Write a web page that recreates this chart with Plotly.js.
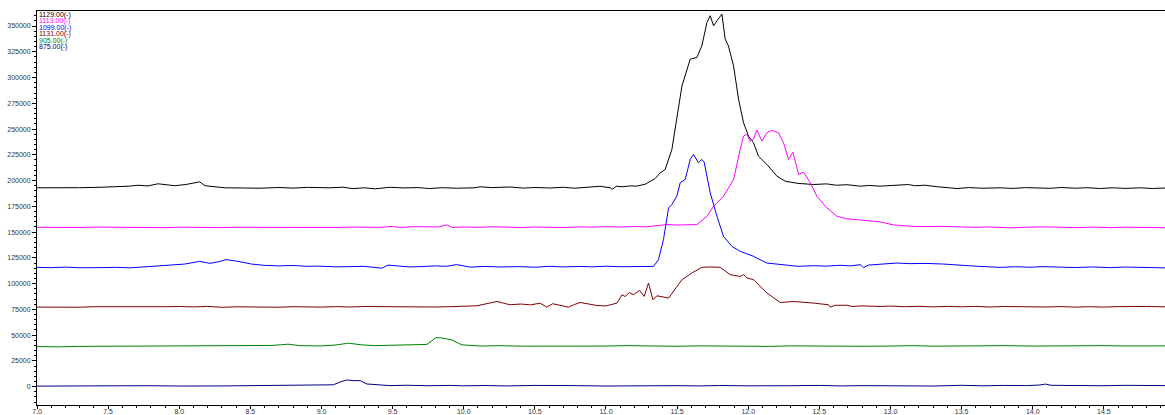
<!DOCTYPE html>
<html>
<head>
<meta charset="utf-8">
<script src="https://cdn.plot.ly/plotly-3.0.1.min.js"></script>
<style>html,body{margin:0;padding:0;background:#fff;}#chart{width:1165px;height:415px;}</style>
</head>
<body>
<div id="chart"></div>
<script>
// Legend labels (drawn as coloured text, top-left)
const seriesNames = ['1129.00(-)', '1113.00(-)', '1099.00(-)', '1131.00(-)', '905.00(-)', '875.00(-)'];
const seriesColors = ['#000000', '#ff00ff', '#0000ff', '#800000', '#008000', '#000080'];

// 1129.00 (black)
const x1129 = [7.0, 7.1, 7.2, 7.3, 7.443, 7.55, 7.65, 7.71, 7.78, 7.851, 7.91, 7.97, 8.05, 8.144, 8.181, 8.25, 8.32, 8.45, 8.568, 8.7, 8.8, 8.9, 8.976, 9.06, 9.15, 9.22, 9.3, 9.377, 9.48, 9.58, 9.68, 9.76, 9.85, 9.95, 10.08, 10.115, 10.2, 10.326, 10.42, 10.5, 10.608, 10.7, 10.78, 10.854, 10.959, 11.03, 11.044, 11.072, 11.12, 11.17, 11.217, 11.276, 11.346, 11.381, 11.416, 11.463, 11.498, 11.534, 11.592, 11.639, 11.674, 11.71, 11.733, 11.756, 11.78, 11.815, 11.838, 11.861, 11.897, 11.932, 11.967, 12.002, 12.037, 12.072, 12.131, 12.202, 12.26, 12.35, 12.459, 12.55, 12.62, 12.694, 12.788, 12.85, 12.928, 13.0, 13.06, 13.127, 13.17, 13.245, 13.33, 13.4, 13.468, 13.55, 13.65, 13.772, 13.86, 13.95, 14.04, 14.124, 14.2, 14.3, 14.38, 14.475, 14.56, 14.65, 14.757, 14.84, 14.93];
const y1129 = [193000, 192800, 193300, 193100, 193500, 193900, 194600, 195500, 194800, 196900, 195600, 195000, 196300, 198800, 195000, 194000, 193000, 192800, 192600, 193300, 192700, 193400, 193200, 193000, 193600, 192200, 193000, 192000, 193500, 192900, 193200, 192300, 193100, 192600, 193000, 194000, 193200, 193800, 192700, 193300, 192800, 193500, 192600, 193200, 194500, 193000, 191500, 194500, 194000, 194900, 194600, 196500, 202000, 207500, 210800, 230000, 262700, 291800, 317800, 319500, 330800, 353500, 360000, 350200, 355100, 361600, 337300, 330700, 311300, 279000, 256200, 243200, 236800, 223700, 215700, 204300, 199400, 197300, 196200, 196800, 195500, 196000, 194600, 195300, 194600, 195200, 195600, 196200, 195000, 195500, 194000, 193300, 192300, 193200, 192600, 193000, 192400, 193200, 192700, 192500, 193300, 192600, 193100, 192300, 193000, 192400, 193000, 192300, 192800];

// 1113.00 (magenta)
const x1113 = [7.0, 7.1, 7.2, 7.3, 7.4, 7.5, 7.6, 7.7, 7.8, 7.9, 8.0, 8.1, 8.2, 8.3, 8.4, 8.5, 8.6, 8.7, 8.8, 8.9, 9.0, 9.1, 9.2, 9.3, 9.4, 9.5, 9.55, 9.65, 9.75, 9.82, 9.881, 9.92, 10.0, 10.1, 10.2, 10.3, 10.4, 10.5, 10.6, 10.7, 10.818, 10.9, 11.0, 11.1, 11.2, 11.288, 11.35, 11.428, 11.5, 11.58, 11.639, 11.71, 11.756, 11.826, 11.897, 11.944, 11.967, 11.991, 12.014, 12.037, 12.061, 12.096, 12.131, 12.167, 12.213, 12.248, 12.283, 12.314, 12.354, 12.389, 12.436, 12.483, 12.553, 12.624, 12.694, 12.764, 12.858, 12.928, 13.02, 13.139, 13.25, 13.35, 13.491, 13.6, 13.7, 13.842, 13.95, 14.05, 14.194, 14.3, 14.42, 14.546, 14.65, 14.75, 14.85, 14.93];
const y1113 = [154700, 154400, 154800, 154500, 154900, 154800, 154400, 154700, 154300, 154300, 154800, 154500, 154900, 154400, 154700, 154600, 154500, 154900, 154400, 154800, 154700, 154500, 154900, 154400, 154600, 155500, 154500, 155300, 155200, 155000, 157000, 154500, 155000, 154600, 155200, 154800, 154500, 154900, 154600, 154500, 155100, 154800, 155300, 154900, 155400, 155100, 156200, 157300, 156900, 157400, 157300, 165400, 175100, 184800, 201100, 230300, 243200, 244900, 238300, 240300, 249000, 238300, 246500, 248700, 246500, 236800, 220500, 227600, 206000, 208200, 197900, 184800, 173500, 165400, 162800, 162100, 160500, 159900, 157000, 155700, 155300, 155600, 155000, 154600, 155000, 154100, 154700, 155100, 154800, 154300, 154900, 154300, 154800, 154500, 154100, 154200];

// 1099.00 (blue)
const x1099 = [7.0, 7.1, 7.2, 7.3, 7.443, 7.55, 7.654, 7.75, 7.82, 7.898, 7.97, 8.039, 8.144, 8.215, 8.27, 8.331, 8.414, 8.507, 8.601, 8.7, 8.8, 8.9, 8.976, 9.1, 9.201, 9.3, 9.424, 9.468, 9.55, 9.62, 9.693, 9.8, 9.88, 9.951, 10.045, 10.15, 10.25, 10.397, 10.5, 10.6, 10.7, 10.818, 10.9, 11.0, 11.1, 11.2, 11.334, 11.369, 11.404, 11.44, 11.463, 11.498, 11.522, 11.557, 11.592, 11.615, 11.65, 11.674, 11.69, 11.733, 11.78, 11.826, 11.885, 11.944, 12.037, 12.131, 12.272, 12.35, 12.459, 12.55, 12.65, 12.72, 12.788, 12.811, 12.844, 12.93, 13.046, 13.13, 13.25, 13.373, 13.49, 13.6, 13.772, 13.88, 13.98, 14.08, 14.194, 14.3, 14.42, 14.546, 14.65, 14.75, 14.85, 14.93];
const y1099 = [115800, 115500, 116000, 115400, 115500, 115800, 115300, 116200, 116800, 117400, 118000, 119000, 121600, 119700, 121000, 123300, 121600, 119000, 117700, 117200, 117600, 116800, 117000, 116300, 116500, 116800, 115000, 118000, 117000, 116200, 116500, 117200, 116800, 118500, 116000, 116700, 116200, 116500, 115900, 116800, 116200, 116700, 116300, 116900, 116400, 116800, 116700, 123200, 142700, 173500, 176800, 184800, 197900, 201100, 220500, 225400, 217300, 220500, 218000, 188100, 165400, 145900, 136200, 131300, 126500, 120000, 117700, 116800, 117400, 117000, 117800, 117200, 118400, 115500, 118000, 118600, 120000, 119400, 119600, 119000, 117700, 116900, 115800, 116400, 115900, 116500, 116000, 115600, 116200, 115500, 116100, 115700, 115200, 115300];

// 1131.00 (dark red)
const x1131 = [7.0, 7.1, 7.2, 7.3, 7.4, 7.5, 7.6, 7.7, 7.8, 7.9, 8.0, 8.1, 8.2, 8.3, 8.4, 8.5, 8.6, 8.7, 8.8, 8.9, 9.0, 9.1, 9.2, 9.3, 9.4, 9.5, 9.6, 9.7, 9.8, 9.9, 10.0, 10.094, 10.17, 10.233, 10.28, 10.326, 10.4, 10.47, 10.537, 10.584, 10.626, 10.68, 10.736, 10.78, 10.818, 10.936, 11.0, 11.077, 11.113, 11.135, 11.165, 11.193, 11.236, 11.269, 11.299, 11.33, 11.358, 11.44, 11.475, 11.534, 11.604, 11.674, 11.733, 11.803, 11.873, 11.944, 11.967, 11.991, 12.037, 12.131, 12.225, 12.319, 12.459, 12.565, 12.577, 12.612, 12.694, 12.729, 12.8, 12.928, 13.0, 13.1, 13.2, 13.3, 13.4, 13.5, 13.6, 13.7, 13.8, 13.9, 14.0, 14.1, 14.2, 14.3, 14.4, 14.5, 14.6, 14.7, 14.8, 14.93];
const y1131 = [77200, 77000, 77500, 77100, 77600, 77500, 77200, 77700, 77300, 77600, 77800, 77400, 77900, 77000, 77500, 77200, 77500, 77100, 77600, 77300, 77200, 77700, 77300, 77800, 77600, 77200, 77000, 77500, 77300, 77600, 78000, 78500, 80800, 82700, 81000, 79500, 80200, 79400, 81000, 77200, 80500, 79200, 77200, 79800, 81700, 78800, 78300, 81100, 89200, 87500, 91400, 89200, 93400, 87600, 100600, 84300, 88200, 86000, 92400, 103800, 110300, 115800, 116200, 115800, 108700, 107000, 108700, 105500, 103800, 90900, 81700, 82700, 81100, 79500, 77200, 79000, 79000, 77800, 78400, 77800, 78200, 77600, 78000, 77400, 77900, 77500, 77900, 77300, 77800, 77500, 77800, 77300, 77700, 77200, 77600, 77200, 77700, 77400, 77800, 77500];

// 905.00 (green)
const x905 = [7.0, 7.15, 7.3, 7.5, 7.65, 7.8, 8.0, 8.15, 8.3, 8.5, 8.65, 8.765, 8.85, 9.0, 9.1, 9.189, 9.28, 9.377, 9.5, 9.6, 9.741, 9.806, 9.857, 9.916, 9.987, 10.116, 10.25, 10.4, 10.5, 10.65, 10.8, 11.0, 11.15, 11.3, 11.5, 11.65, 11.8, 12.0, 12.15, 12.3, 12.5, 12.65, 12.8, 13.0, 13.15, 13.3, 13.5, 13.65, 13.8, 14.0, 14.15, 14.3, 14.5, 14.65, 14.8, 14.93];
const y905 = [38900, 38600, 39100, 39200, 38800, 39300, 39000, 39400, 39100, 39500, 40000, 41200, 39800, 39500, 40400, 42200, 40600, 39800, 40200, 40000, 41000, 47700, 47000, 45300, 40600, 39400, 39800, 39300, 39200, 39600, 39100, 39400, 39800, 39300, 39200, 39600, 39300, 39500, 39100, 39600, 39300, 39700, 39200, 39400, 39800, 39300, 39600, 39300, 39800, 39400, 39700, 39300, 39800, 39500, 39900, 39600];

// 875.00 (navy)
const x875 = [7.0, 7.15, 7.3, 7.5, 7.65, 7.8, 8.0, 8.15, 8.3, 8.5, 8.65, 8.8, 8.95, 9.084, 9.13, 9.178, 9.23, 9.272, 9.319, 9.4, 9.482, 9.6, 9.75, 9.9, 10.0, 10.15, 10.3, 10.5, 10.65, 10.8, 11.0, 11.15, 11.3, 11.5, 11.65, 11.8, 12.0, 12.15, 12.3, 12.5, 12.65, 12.8, 13.0, 13.15, 13.3, 13.5, 13.65, 13.8, 13.95, 14.05, 14.09, 14.13, 14.3, 14.5, 14.65, 14.8, 14.93];
const y875 = [500, 300, 700, 800, 500, 900, 600, 1000, 700, 1000, 1300, 1500, 1200, 1800, 4500, 6500, 5800, 5900, 2600, 1600, 1000, 1400, 900, 1200, 800, 1100, 700, 1200, 800, 1000, 600, 900, 500, 1000, 700, 1100, 800, 500, 900, 1200, 700, 1000, 700, 1100, 600, 1300, 800, 1200, 1000, 1600, 2500, 1300, 1000, 900, 1300, 800, 1000];

// Axis tick definitions
const xTickVals = [7.0, 7.5, 8.0, 8.5, 9.0, 9.5, 10.0, 10.5, 11.0, 11.5, 12.0, 12.5, 13.0, 13.5, 14.0, 14.5, 15.0];
const xTickText = ['7.0', '7.5', '8.0', '8.5', '9.0', '9.5', '10.0', '10.5', '11.0', '11.5', '12.0', '12.5', '13.0', '13.5', '14.0', '14.5', '15.0'];
const yTickVals = [0, 25000, 50000, 75000, 100000, 125000, 150000, 175000, 200000, 225000, 250000, 275000, 300000, 325000, 350000];
const yTickText = ['0', '25000', '50000', '75000', '100000', '125000', '150000', '175000', '200000', '225000', '250000', '275000', '300000', '325000', '350000'];

const xs = [x1129, x1113, x1099, x1131, x905, x875];
const ys = [y1129, y1113, y1099, y1131, y905, y875];

const traces = xs.map((x, i) => ({
  type: 'scatter', mode: 'lines', x: x, y: ys[i], name: seriesNames[i],
  line: {color: seriesColors[i], width: 1, shape: 'linear'},
  hoverinfo: 'skip'
}));

const annotations = seriesNames.map((n, i) => ({
  xref: 'paper', yref: 'paper', x: 0, y: 1, xanchor: 'left', yanchor: 'top',
  xshift: 1, yshift: 1 - i * 6.4, showarrow: false, borderpad: 0,
  text: n, font: {family: 'Liberation Sans, Arial, sans-serif', size: 7, color: seriesColors[i]}
}));

const tickFont = {family: 'Liberation Sans, Arial, sans-serif', size: 7, color: '#333'};

const layout = {
  width: 1165, height: 415,
  margin: {l: 37, r: 0, t: 11, b: 10, pad: 0},
  paper_bgcolor: '#fff', plot_bgcolor: '#fff',
  showlegend: false,
  font: tickFont,
  xaxis: {
    range: [7.0, 14.93], showgrid: false, zeroline: false,
    showline: true, linecolor: '#000', linewidth: 1, mirror: true,
    ticks: 'outside', ticklen: 3, tickcolor: '#000', tickwidth: 1,
    ticklabelstandoff: -3,
    tickmode: 'array', tickvals: xTickVals, ticktext: xTickText, tickfont: tickFont,
    minor: {dtick: 0.1, ticks: 'outside', ticklen: 2, tickcolor: '#000', showgrid: false}
  },
  yaxis: {
    range: [-17800, 364600], showgrid: false, zeroline: false,
    showline: true, linecolor: '#000', linewidth: 1,
    ticks: 'outside', ticklen: 4, tickcolor: '#000', tickwidth: 1,
    tickmode: 'array', tickvals: yTickVals, ticktext: yTickText, tickfont: tickFont,
    minor: {dtick: 5000, tick0: 0, ticks: 'outside', ticklen: 2, tickcolor: '#000', showgrid: false}
  },
  annotations: annotations
};

Plotly.newPlot('chart', traces, layout, {displayModeBar: false, staticPlot: true});
</script>
</body>
</html>
